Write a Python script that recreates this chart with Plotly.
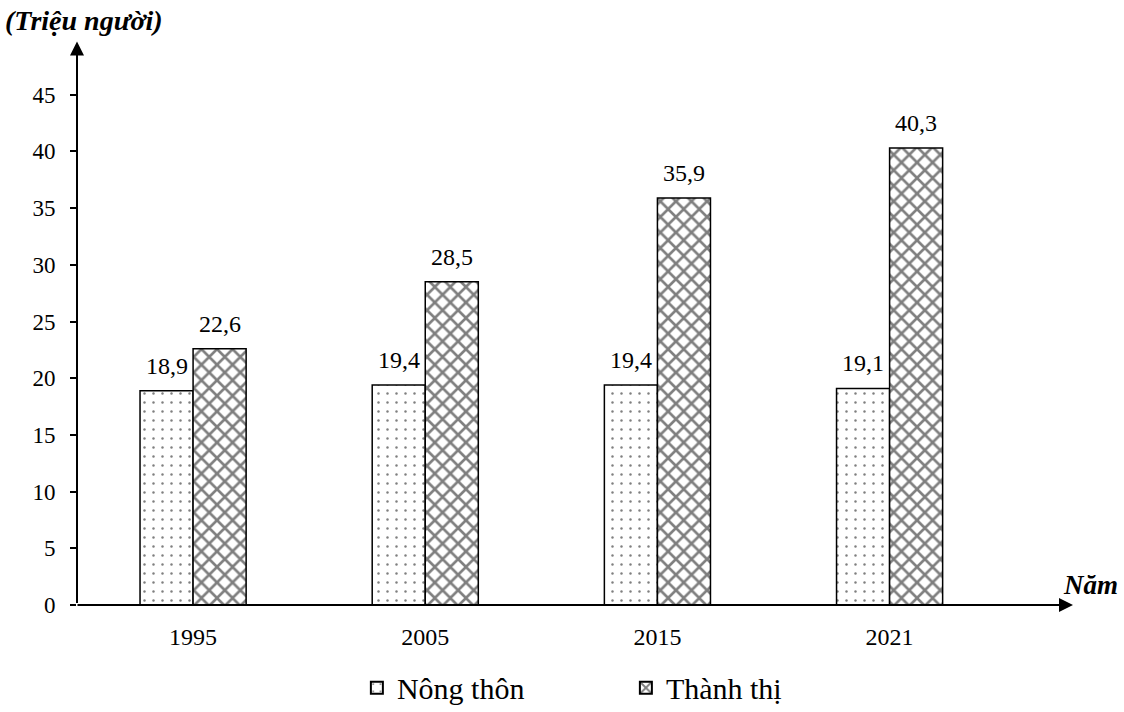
import plotly.graph_objects as go

years = ["1995", "2005", "2015", "2021"]
nong_thon = [18.9, 19.4, 19.4, 19.1]
thanh_thi = [22.6, 28.5, 35.9, 40.3]
y_ticks = [0, 5, 10, 15, 20, 25, 30, 35, 40, 45]

def fmt(v):
    return f"{v:.1f}".replace(".", ",")

FONT = "Liberation Serif, Times New Roman, serif"

fig = go.Figure()
fig.add_trace(go.Bar(
    name="Nông thôn", x=years, y=nong_thon,
    marker=dict(color="white", line=dict(color="black", width=1.5),
                pattern=dict(shape=".", fgcolor="black", bgcolor="white", size=9, solidity=0.06)),
))
fig.add_trace(go.Bar(
    name="Thành thị", x=years, y=thanh_thi,
    marker=dict(color="white", line=dict(color="black", width=1.5),
                pattern=dict(shape="x", fgcolor="black", bgcolor="white", size=11, solidity=0.42)),
))

# value labels above bars (x given as category index)
for series, shift in ((nong_thon, -26.5), (thanh_thi, 26.5)):
    for i, v in enumerate(series):
        fig.add_annotation(x=i, y=v, xref="x", yref="y", text=fmt(v), showarrow=False,
                           xshift=shift, yshift=25, yanchor="middle", xanchor="center",
                           font=dict(family=FONT, size=24, color="black"))

fig.update_layout(
    width=1124, height=712,
    paper_bgcolor="white", plot_bgcolor="white",
    margin=dict(l=77, r=51, t=38, b=107, autoexpand=False),
    barmode="group", bargap=0.543, bargroupgap=0,
    separators=",.",
    font=dict(family=FONT, color="black"),
    showlegend=True,
    legend=dict(orientation="h", x=0.281, xanchor="left", y=-0.146, yanchor="middle",
                font=dict(family=FONT, size=30, color="black"),
                entrywidth=224, entrywidthmode="pixels", itemsizing="constant"),
    xaxis=dict(type="category", range=[-0.5, 3.79], showline=False, showgrid=False,
               ticks="", tickfont=dict(family=FONT, size=24, color="black"), ticklabelstandoff=15),
    yaxis=dict(range=[0, 50], tickvals=y_ticks, showline=False, showgrid=False, zeroline=False,
               ticks="outside", ticklen=6, tickwidth=1.5, tickcolor="black",
               tickfont=dict(family=FONT, size=23, color="black"), ticklabelstandoff=10),
)

# axis lines with arrows
fig.add_annotation(xref="paper", yref="paper", x=0, y=0.994, ax=0, ay=563, axref="pixel", ayref="pixel",
                   showarrow=True, arrowhead=2, arrowsize=1.4, arrowwidth=2, arrowcolor="black", text="")
fig.add_annotation(xref="paper", yref="paper", x=1.0, y=0, ax=-997, ay=0,
                   showarrow=True, arrowhead=2, arrowsize=1.4, arrowwidth=2, arrowcolor="black", text="")

fig.add_annotation(xref="paper", yref="paper", x=-0.074, y=1.03, xanchor="left", yanchor="middle",
                   text="<b><i>(Triệu người)</i></b>", showarrow=False,
                   font=dict(family=FONT, size=28, color="black"))
fig.add_annotation(xref="paper", yref="paper", x=1.047, y=0.035, xanchor="right", yanchor="middle",
                   text="<b><i>Năm</i></b>", showarrow=False,
                   font=dict(family=FONT, size=27, color="black"))

fig.write_html("out.html", config={"displayModeBar": False},
               post_script="document.body.style.margin='0';")
